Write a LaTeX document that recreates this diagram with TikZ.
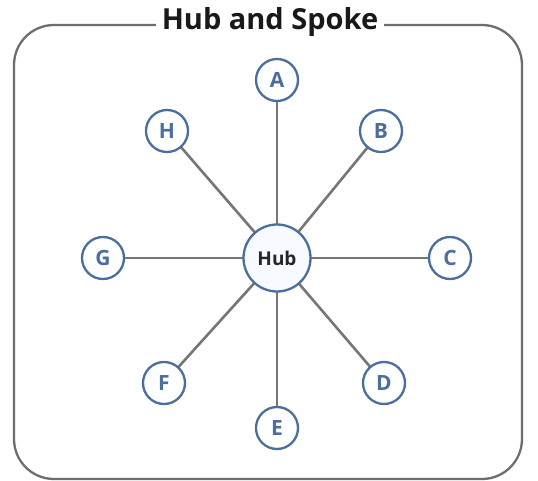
\documentclass[tikz,border=0pt]{standalone}
\usepackage{fontspec}
\setmainfont{Open Sans}
\begin{document}
\begin{tikzpicture}[x=1pt,y=-1pt,
  leaf/.style={circle,draw=spokeblue,line width=2.3pt,fill=white,minimum size=42pt,inner sep=0pt,
    font=\fontsize{21}{21}\selectfont\bfseries,text=spokeblue},
  hubnode/.style={circle,draw=spokeblue,line width=2.3pt,fill=hubfill,minimum size=67pt,inner sep=0pt,
    font=\fontsize{19}{19}\selectfont\bfseries,text=black!85},
  spoke/.style={draw=spokegray,line width=2.6pt},
  frame/.style={draw=framegray,line width=2.3pt,rounded corners=40pt},
  titlestyle/.style={font=\fontsize{29}{29}\selectfont\bfseries,text=black!90,fill=white,inner xsep=6pt,inner ysep=2pt}]
\definecolor{spokeblue}{HTML}{4A6E9E}
\definecolor{hubfill}{HTML}{F7FAFE}
\definecolor{spokegray}{HTML}{767676}
\definecolor{framegray}{HTML}{6E6E6E}
\useasboundingbox (0,0) rectangle (538,481);
\fill[white] (0,0) rectangle (538,481);
\draw[frame] (14,25) rectangle (522,479);
\node[titlestyle] (title) at (270,22) {Hub and Spoke};
\coordinate (hc) at (277,258);
\coordinate (pA) at (277,80);
\coordinate (pB) at (381,131);
\coordinate (pC) at (450,258);
\coordinate (pD) at (384,383);
\coordinate (pE) at (277,428);
\coordinate (pF) at (164,383);
\coordinate (pG) at (103,258);
\coordinate (pH) at (167,131);
\foreach \n in {A,B,C,D,E,F,G,H}{\draw[spoke] (hc) -- (p\n);}
\node[hubnode] (hub) at (hc) {Hub};
\node[leaf] (A) at (pA) {A};
\node[leaf] (B) at (pB) {B};
\node[leaf] (C) at (pC) {C};
\node[leaf] (D) at (pD) {D};
\node[leaf] (E) at (pE) {E};
\node[leaf] (F) at (pF) {F};
\node[leaf] (G) at (pG) {G};
\node[leaf] (H) at (pH) {H};
\end{tikzpicture}
\end{document}
